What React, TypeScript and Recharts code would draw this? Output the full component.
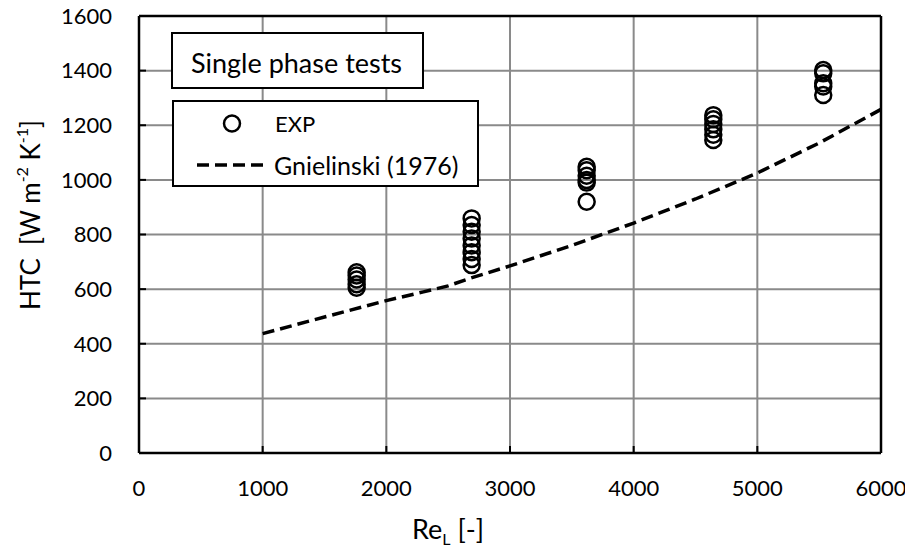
import React from "react";
import {
  ScatterChart,
  Scatter,
  XAxis,
  YAxis,
  CartesianGrid,
  ReferenceLine,
} from "recharts";

// Experimental single-phase points (Re_L, HTC)
const expRe = [
  1760, 1760, 1760, 1760, 1760,
  2690, 2690, 2690, 2690, 2690, 2690, 2690, 2690,
  3620, 3620, 3620, 3620, 3620, 3620,
  4644, 4644, 4644, 4644, 4644, 4644,
  5533, 5533, 5533, 5533, 5533,
];
const expHtc = [
  662, 650, 635, 618, 605,
  859, 835, 810, 785, 760, 735, 710, 688,
  1048, 1035, 1015, 1000, 990, 920,
  1237, 1222, 1205, 1185, 1165, 1146,
  1402, 1390, 1354, 1342, 1311,
];

// Gnielinski (1976) correlation curve
const gnRe = [1000, 1500, 2000, 2300, 2500, 2700, 3000, 3500, 4000, 4500, 5000, 5500, 6000];
const gnHtc = [437, 498, 558, 590, 612, 643, 685, 760, 842, 930, 1025, 1135, 1258];

const xTicks = [0, 1000, 2000, 3000, 4000, 5000, 6000];
const yTicks = [0, 200, 400, 600, 800, 1000, 1200, 1400, 1600];

const expData = expRe.map((re, i) => ({ re, htc: expHtc[i] }));
const gnData = gnRe.map((re, i) => ({ re, htc: gnHtc[i] }));

const FONT = "Lato, 'Liberation Sans', sans-serif";
const GRID = "#8a8a8a";

const RingShape = (props: any) => {
  const { cx, cy } = props;
  if (cx == null || cy == null) return null;
  return <circle cx={cx} cy={cy} r={8} fill="none" stroke="#000" strokeWidth={2.5} />;
};

const NoShape = () => null;

const XLabel = (props: any) => {
  const vb = props.viewBox || {};
  const x = (vb.x ?? 139) + 309;
  const y = (vb.y ?? 453) + 86;
  return (
    <text x={x} y={y} textAnchor="middle" fontFamily={FONT} fontSize={27} fill="#000">
      Re
      <tspan fontSize={16} dy={6}>L</tspan>
      <tspan dy={-6}> [-]</tspan>
    </text>
  );
};

const YLabel = () => {
  const cx = 30;
  const cy = 215;
  return (
    <text
      x={cx}
      y={cy}
      transform={`rotate(-90 ${cx} ${cy})`}
      textAnchor="middle"
      dominantBaseline="central"
      fontFamily={FONT}
      fontSize={26}
      fill="#000"
    >
      HTC{"\u00a0\u00a0"}[W m
      <tspan fontSize={16} dy={-9}>-2</tspan>
      <tspan dy={9}> K</tspan>
      <tspan fontSize={16} dy={-9}>-1</tspan>
      <tspan dy={9}>]</tspan>
    </text>
  );
};

export default function App() {
  return (
    <div
      style={{
        position: "relative",
        width: 913,
        height: 554,
        margin: "-8px 0 0 -8px",
        background: "#fff",
      }}
    >
      <ScatterChart
        width={913}
        height={554}
        margin={{ top: 16, right: 32, bottom: 0, left: 0 }}
      >
        <CartesianGrid stroke={GRID} strokeWidth={2} horizontal vertical />
        <XAxis
          type="number"
          dataKey="re"
          domain={[0, 6000]}
          ticks={xTicks}
          interval={0}
          height={101}
          axisLine={{ stroke: "#000", strokeWidth: 2.5 }}
          tickLine={{ stroke: "#000", strokeWidth: 2 }}
          tickSize={-7}
          tickMargin={34}
          tick={{ fill: "#000", fontSize: 22, fontFamily: FONT }}
          label={<XLabel />}
        />
        <YAxis
          type="number"
          dataKey="htc"
          domain={[0, 1600]}
          ticks={yTicks}
          interval={0}
          width={139}
          axisLine={{ stroke: "#000", strokeWidth: 2.5 }}
          tickLine={{ stroke: "#000", strokeWidth: 2 }}
          tickSize={-7}
          tickMargin={34}
          tick={{ fill: "#000", fontSize: 22, fontFamily: FONT }}
          label={<YLabel />}
        />
        <ReferenceLine y={1600} stroke="#000" strokeWidth={2.5} ifOverflow="visible" />
        <ReferenceLine x={6000} stroke="#000" strokeWidth={2.5} ifOverflow="visible" />
        <Scatter
          name="Gnielinski (1976)"
          data={gnData}
          line={{ stroke: "#000", strokeWidth: 3.5, strokeDasharray: "12 6" }}
          lineType="joint"
          shape={<NoShape />}
          isAnimationActive={false}
        />
        <Scatter
          name="EXP"
          data={expData}
          shape={<RingShape />}
          isAnimationActive={false}
        />
      </ScatterChart>
      <svg
        width={913}
        height={554}
        style={{ position: "absolute", left: 0, top: 0, pointerEvents: "none" }}
      >
        <rect x={172} y={33} width={251} height={55} fill="#fff" stroke="#000" strokeWidth={2} />
        <text x={191} y={62} dominantBaseline="central" fontFamily={FONT} fontSize={27} fill="#000">
          Single phase tests
        </text>
        <rect x={173} y={101} width={305} height={85} fill="#fff" stroke="#000" strokeWidth={2} />
        <circle cx={232} cy={123.5} r={8} fill="none" stroke="#000" strokeWidth={2.5} />
        <text x={275} y={123} dominantBaseline="central" fontFamily={FONT} fontSize={22} fill="#000">
          EXP
        </text>
        <line x1={197} y1={165} x2={267} y2={165} stroke="#000" strokeWidth={3.5} strokeDasharray="12 6" />
        <text x={274} y={165} dominantBaseline="central" fontFamily={FONT} fontSize={25} fill="#000">
          Gnielinski (1976)
        </text>
      </svg>
    </div>
  );
}
